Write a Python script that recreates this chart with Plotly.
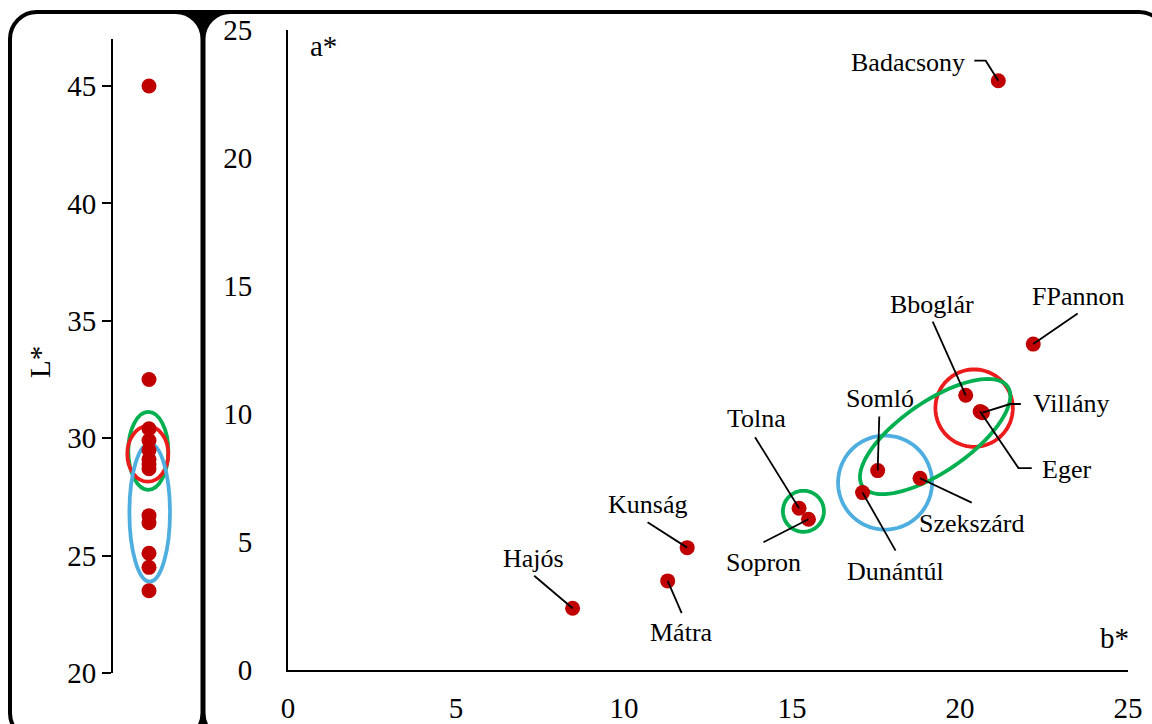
import numpy as np
import plotly.graph_objects as go

# ---------------- data ----------------
regions = ["Hajós", "Kunság", "Mátra", "Tolna", "Sopron", "Dunántúl", "Somló",
           "Szekszárd", "Bboglár", "Villány", "Eger", "FPannon", "Badacsony"]
b_star = [8.47, 11.88, 11.30, 15.21, 15.49, 17.10, 17.55, 18.81, 20.17, 20.67, 20.60, 22.18, 21.14]
a_star = [2.41, 4.78, 3.48, 6.32, 5.89, 6.93, 7.79, 7.49, 10.73, 10.05, 10.10, 12.73, 23.02]
L_star = [45.0, 32.5, 30.4, 29.9, 29.5, 29.1, 28.9, 28.7, 26.7, 26.4, 25.1, 24.5, 23.5]
ab_ticks = [0, 5, 10, 15, 20, 25]
L_ticks = [20, 25, 30, 35, 40, 45]

# ---------------- layout geometry (pixels) ----------------
W, H = 1152, 724
FONT = "Liberation Serif, Times New Roman, serif"
DOT = "#C00000"
RED, GREEN, BLUE = "#EC1C1C", "#00B050", "#4FAEE0"

def PX(px):
    return px / W

def PY(py):
    return 1 - py / H

# right plot area
RX0, RX1, RY0, RY1 = 288, 1128, 670, 30
sx = (RX1 - RX0) / 25.0
sy = (RY0 - RY1) / 25.0
# left plot area
LX0, LX1, LY0, LY1 = 113, 195, 673, 39
L_RANGE = [20, 47]
sly = (LY0 - LY1) / (L_RANGE[1] - L_RANGE[0])
L_XPOS = 36  # dots column (px from left axis)

# label placement: text-centre offset (px, y down) and leader polyline offsets
label_pos = {
    "Badacsony": ((-90, -18), [(0, 0), (-12.6, -20), (-24, -20)]),
    "FPannon":   ((45, -48), [(0, 0), (44.4, -30.7)]),
    "Bboglár":   ((-34, -91), [(0, 0), (-33, -73.6)]),
    "Villány":   ((88, -9), [(0, 0), (27.6, -8.7), (38.3, -8.7)]),
    "Eger":      ((86, 58), [(0, 0), (38.3, 56.6), (51.6, 56.6)]),
    "Somló":     ((2.6, -72), [(0, 0), (1.6, -54)]),
    "Szekszárd": ((51, 45), [(0, 0), (51.7, 24.4)]),
    "Dunántúl":  ((32.6, 79), [(0, 0), (33, 58)]),
    "Tolna":     ((-43, -90), [(0, 0), (-44, -71)]),
    "Sopron":    ((-45, 43), [(0, 0), (-45, 23)]),
    "Kunság":    ((-39.6, -42.7), [(0, 0), (-39.6, -25.4)]),
    "Hajós":     ((-38.7, -50), [(0, 0), (-38.4, -32.6)]),
    "Mátra":     ((13.6, 52), [(0, 0), (14, 32.3)]),
}

# group ellipses (centre in data units, semi-axes in px, rotation deg)
right_ellipses = [
    dict(cx=15.34, cy=6.20, a=20.5, b=20.5, ang=0, color=GREEN),
    dict(cx=17.77, cy=7.32, a=47, b=47, ang=0, color=BLUE),
    dict(cx=20.42, cy=10.23, a=38.7, b=38.7, ang=0, color=RED),
    dict(cx=19.26, cy=9.12, a=88, b=35, ang=34.5, color=GREEN),
]
left_ellipses = [
    dict(cx=35.3, cy=29.46, a=20, b=39, color=GREEN),
    dict(cx=34.8, cy=29.33, a=20.5, b=27.7, color=RED),
    dict(cx=36.7, cy=26.83, a=20.3, b=69, color=BLUE),
]

fig = go.Figure()

shapes = []

def rrect(x0, y0, x1, y1, r):
    k = 0.5523 * r
    pts = [
        f"M{PX(x0 + r)},{PY(y0)}",
        f"L{PX(x1 - r)},{PY(y0)}",
        f"C{PX(x1 - r + k)},{PY(y0)} {PX(x1)},{PY(y0 + r - k)} {PX(x1)},{PY(y0 + r)}",
        f"L{PX(x1)},{PY(y1 - r)}",
        f"C{PX(x1)},{PY(y1 - r + k)} {PX(x1 - r + k)},{PY(y1)} {PX(x1 - r)},{PY(y1)}",
        f"L{PX(x0 + r)},{PY(y1)}",
        f"C{PX(x0 + r - k)},{PY(y1)} {PX(x0)},{PY(y1 - r + k)} {PX(x0)},{PY(y1 - r)}",
        f"L{PX(x0)},{PY(y0 + r)}",
        f"C{PX(x0)},{PY(y0 + r - k)} {PX(x0 + r - k)},{PY(y0)} {PX(x0 + r)},{PY(y0)}",
        "Z",
    ]
    return " ".join(pts)

shapes.append(dict(type="rect", xref="paper", yref="paper", x0=PX(175), x1=PX(232),
                   y0=PY(10), y1=PY(730), fillcolor="black", line=dict(width=0), layer="below"))
for (x0, x1) in [(10, 202.5), (203.5, 1166)]:
    shapes.append(dict(type="path", xref="paper", yref="paper", path=rrect(x0, 12, x1, 740, 27),
                       fillcolor="white", line=dict(color="black", width=4), layer="below"))

t = np.linspace(0, 2 * np.pi, 97)
for e in right_ellipses:
    th = np.radians(e["ang"])
    ex = e["a"] * np.cos(t)
    ey = e["b"] * np.sin(t)
    dx = ex * np.cos(th) - ey * np.sin(th)
    dy = ex * np.sin(th) + ey * np.cos(th)
    xs = e["cx"] + dx / sx
    ys = e["cy"] + dy / sy
    path = "M" + " L".join(f"{x:.4f},{y:.4f}" for x, y in zip(xs, ys)) + " Z"
    shapes.append(dict(type="path", xref="x", yref="y", path=path,
                       line=dict(color=e["color"], width=3.8), layer="below"))

for e in left_ellipses:
    shapes.append(dict(type="circle", xref="x2", yref="y2",
                       x0=e["cx"] - e["a"], x1=e["cx"] + e["a"],
                       y0=e["cy"] - e["b"] / sly, y1=e["cy"] + e["b"] / sly,
                       line=dict(color=e["color"], width=3.8), layer="below"))

annotations = []
for name, bx, ay in zip(regions, b_star, a_star):
    (tdx, tdy), leader = label_pos[name]
    path = "M" + " L".join(f"{bx + ox / sx:.4f},{ay - oy / sy:.4f}" for ox, oy in leader)
    shapes.append(dict(type="path", xref="x", yref="y", path=path,
                       line=dict(color="black", width=1.8), layer="above"))
    annotations.append(dict(x=bx, y=ay, xref="x", yref="y", text=name, showarrow=False,
                            xshift=tdx, yshift=-tdy, xanchor="center", yanchor="middle",
                            font=dict(family=FONT, size=26, color="black")))

annotations += [
    dict(x=PX(323), y=PY(46), xref="paper", yref="paper", text="a*", showarrow=False,
         xanchor="center", yanchor="middle", font=dict(family=FONT, size=29, color="black")),
    dict(x=PX(1114), y=PY(638), xref="paper", yref="paper", text="b*", showarrow=False,
         xanchor="center", yanchor="middle", font=dict(family=FONT, size=29, color="black")),
    dict(x=PX(40), y=PY(362), xref="paper", yref="paper", text="L*", showarrow=False,
         textangle=-90, xanchor="center", yanchor="middle",
         font=dict(family=FONT, size=29, color="black")),
]

fig.add_trace(go.Scatter(x=b_star, y=a_star, mode="markers", xaxis="x", yaxis="y",
                         marker=dict(color=DOT, size=15), hoverinfo="skip", showlegend=False))
fig.add_trace(go.Scatter(x=[L_XPOS] * len(L_star), y=L_star, mode="markers", xaxis="x2", yaxis="y2",
                         marker=dict(color=DOT, size=15), hoverinfo="skip", showlegend=False))

tickfont = dict(family=FONT, size=29, color="black")
fig.update_layout(
    width=W, height=H, margin=dict(l=0, r=0, t=0, b=0, pad=0, autoexpand=False),
    autosize=False,
    paper_bgcolor="white", plot_bgcolor="rgba(0,0,0,0)",
    showlegend=False,
    xaxis=dict(domain=[PX(RX0), PX(RX1)], range=[0, 25], tickvals=ab_ticks, ticks="",
               showgrid=False, zeroline=False, showline=True, linecolor="black", linewidth=2,
               tickfont=tickfont, ticklabelstandoff=11, anchor="y", fixedrange=True,
               automargin=False),
    yaxis=dict(domain=[PY(RY0), PY(RY1)], range=[0, 25], tickvals=ab_ticks, ticks="",
               showgrid=False, zeroline=False, showline=True, linecolor="black", linewidth=2,
               tickfont=tickfont, ticklabelstandoff=28, anchor="x", fixedrange=True,
               automargin=False),
    xaxis2=dict(domain=[PX(LX0), PX(LX1)], range=[0, LX1 - LX0], visible=False,
                anchor="y2", fixedrange=True, automargin=False),
    yaxis2=dict(domain=[PY(LY0), PY(LY1)], range=L_RANGE, tickvals=L_ticks,
                ticks="outside", ticklen=9, tickwidth=2, tickcolor="black",
                showgrid=False, zeroline=False, showline=True, linecolor="black", linewidth=2,
                tickfont=tickfont, anchor="x2", fixedrange=True, automargin=False),
    shapes=shapes,
    annotations=annotations,
)

fig.write_html("out.html", config={"displayModeBar": False},
               post_script="document.body.style.margin='0';document.body.style.overflow='hidden';")
